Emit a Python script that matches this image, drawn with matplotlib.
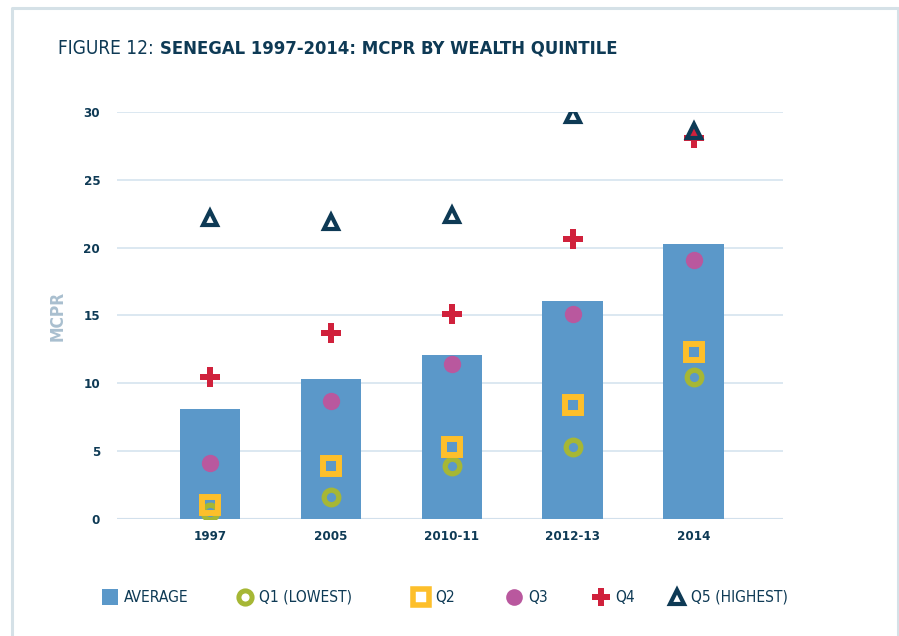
import matplotlib.pyplot as plt
from matplotlib.lines import Line2D

# survey rounds and modern contraceptive prevalence (%)
years = ["1997", "2005", "2010-11", "2012-13", "2014"]
average = [8.1, 10.3, 12.1, 16.1, 20.3]
q1 = [0.5, 1.6, 3.9, 5.3, 10.5]
q2 = [1.0, 3.9, 5.3, 8.4, 12.3]
q3 = [4.1, 8.7, 11.4, 15.1, 19.1]
q4 = [10.5, 13.7, 15.1, 20.6, 28.1]
q5 = [22.2, 21.9, 22.4, 29.8, 28.6]

navy = "#0e3a55"
bar_blue = "#5b98c9"
olive = "#a6b735"
gold = "#fdbf2b"
pink = "#b9589e"
red = "#d0213c"

fig = plt.figure(figsize=(8.99, 6.36), dpi=100)
ax = fig.add_axes([0.130, 0.184, 0.741, 0.640])

x = list(range(len(years)))
ax.bar(x, average, width=0.5, color=bar_blue, zorder=2)

styles = [
    (q1, dict(marker="o", ms=10.5, mew=3.8, mec=olive, mfc="none")),
    (q2, dict(marker="s", ms=11.5, mew=4.3, mec=gold, mfc="none")),
    (q3, dict(marker="o", ms=12.5, mew=0, mfc=pink)),
    (q4, dict(marker="P", ms=14, mew=0, mfc=red)),
    (q5, dict(marker="^", ms=10.5, mew=3, mec=navy, mfc="none")),
]
for i, (vals, st) in enumerate(styles):
    ax.plot(x, vals, ls="none", zorder=3 + i, **st)

ax.set_xlim(-0.77, 4.74)
ax.set_ylim(0, 30)
ax.set_yticks([0, 5, 10, 15, 20, 25, 30])
ax.set_xticks(x)
ax.set_xticklabels(years)
ax.tick_params(length=0, labelsize=9.5, labelcolor=navy, pad=8)
ax.tick_params(axis="y", pad=12)
for lab in ax.get_xticklabels() + ax.get_yticklabels():
    lab.set_fontweight("bold")
    lab.set_fontstretch("condensed")
ax.yaxis.grid(True, color="#d6e4ef", lw=1.2, zorder=0)
ax.axhline(0, color="#bfd0de", lw=1.5, zorder=1)
for s in ax.spines.values():
    s.set_visible(False)
ax.set_ylabel("MCPR", color="#a9bfcf", fontsize=12.5, fontweight="bold",
              fontstretch="condensed", labelpad=12)

# title
fig.text(0.0645, 0.923, "FIGURE 12:", fontsize=13.7, color=navy,
         fontstretch="condensed", va="center")
fig.text(0.178, 0.923, "SENEGAL 1997-2014: MCPR BY WEALTH QUINTILE", fontsize=13.2,
         color=navy, fontweight="bold", fontstretch="condensed", va="center")

# frame around the figure
frame_c = "#d5e1e7"
fig.add_artist(Line2D([0.0139, 0.0139, 0.999, 0.999], [0.0, 0.988, 0.988, 0.0],
                      transform=fig.transFigure, color=frame_c, lw=2.2))

# legend
leg_y = 1 - 597 / 636
legend_items = [
    ("AVERAGE", 110, dict(marker="s", ms=12, mew=0, mfc=bar_blue)),
    ("Q1 (LOWEST)", 245, dict(marker="o", ms=9.5, mew=3.6, mec=olive, mfc="none")),
    ("Q2", 421, dict(marker="s", ms=11, mew=4, mec=gold, mfc="none")),
    ("Q3", 514, dict(marker="o", ms=12, mew=0, mfc=pink)),
    ("Q4", 601, dict(marker="P", ms=13, mew=0, mfc=red)),
    ("Q5 (HIGHEST)", 677, dict(marker="^", ms=10, mew=3, mec=navy, mfc="none")),
]
for label, px, st in legend_items:
    fig.add_artist(Line2D([px / 899], [leg_y], transform=fig.transFigure, ls="none", **st))
    fig.text((px + 14) / 899, leg_y, label, fontsize=11.2, color=navy,
             fontstretch="condensed", va="center")

fig.savefig("out.png", dpi=100)
